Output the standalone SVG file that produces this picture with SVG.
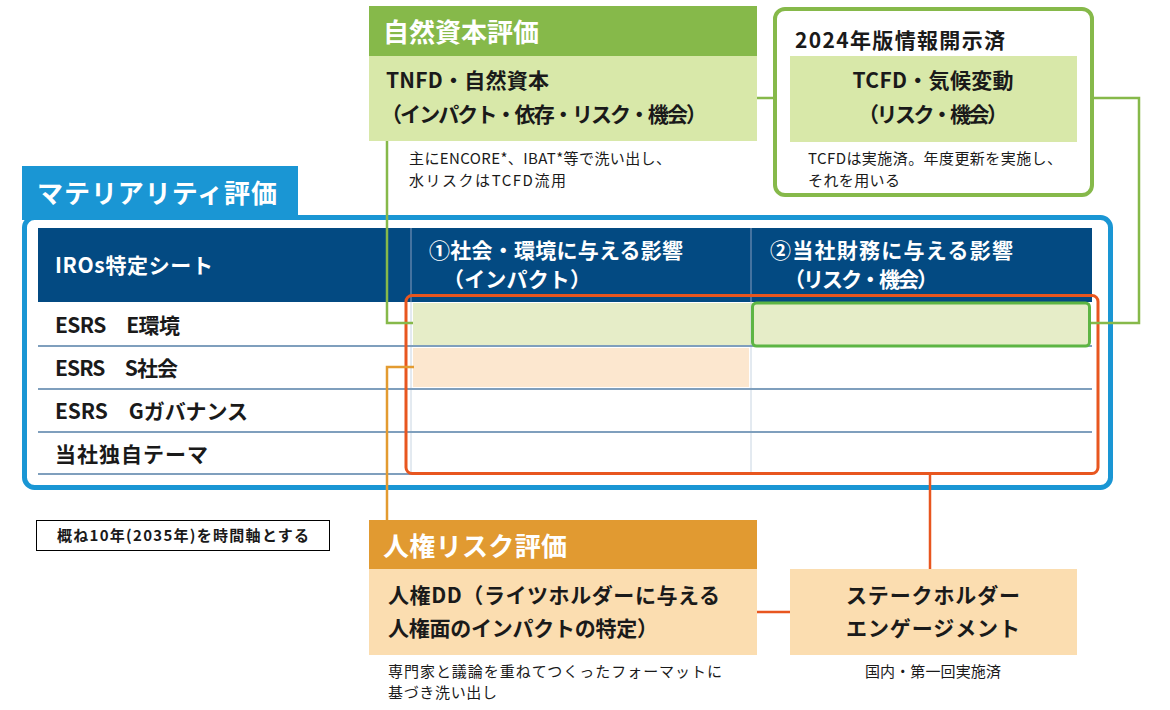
<svg xmlns="http://www.w3.org/2000/svg" width="1170" height="710" viewBox="0 0 1170 710">
<style>
text{font-family:"Noto Sans CJK JP","Noto Sans",sans-serif;}
.ttl{font-size:26px;font-weight:bold;fill:#fff;}
.bd{font-size:21px;font-weight:bold;fill:#1a1a1a;}
.hd{font-size:21px;font-weight:bold;fill:#fff;}
.nt{font-size:15px;fill:#1a1a1a;}
.row{stroke:#7f9fbd;stroke-width:2;}
.conn{fill:none;stroke-width:2.5;}
</style>
<rect width="1170" height="710" fill="#fff"/>

<g id="materiality">
<rect x="24.5" y="217.5" width="1086" height="270" rx="10" fill="#fff" stroke="#1a96d4" stroke-width="5"/>
<rect x="22" y="166" width="276" height="54" fill="#1a96d4"/>
<text class="ttl" x="37" y="203" textLength="240" lengthAdjust="spacing">マテリアリティ評価</text>
<rect x="38" y="228" width="1054" height="74" fill="#034a82"/>
<line x1="411" y1="228" x2="411" y2="302" stroke="#5d82aa" stroke-width="1.5"/>
<line x1="751" y1="228" x2="751" y2="302" stroke="#5d82aa" stroke-width="1.5"/>
<text class="hd" x="55" y="273" textLength="158" lengthAdjust="spacing">IROs特定シート</text>
<text class="hd" x="429" y="258" textLength="254" lengthAdjust="spacing">①社会・環境に与える影響</text>
<text class="hd" x="443" y="287" textLength="148" lengthAdjust="spacing">（インパクト）</text>
<text class="hd" x="770" y="258" textLength="243" lengthAdjust="spacing">②当社財務に与える影響</text>
<text class="hd" x="784" y="287" textLength="154" lengthAdjust="spacing">（リスク・機会）</text>
<rect x="413" y="303" width="338" height="42" fill="#e6edc8"/>
<rect x="751" y="303" width="339" height="42" fill="#e6edc8"/>
<rect x="413" y="348" width="336" height="39" fill="#fce7cf"/>
<line x1="411" y1="302" x2="411" y2="474" stroke="#c8d5e2" stroke-width="1"/>
<line x1="751" y1="302" x2="751" y2="474" stroke="#c8d5e2" stroke-width="1"/>
<line class="row" x1="38" y1="346" x2="1092" y2="346"/>
<line class="row" x1="38" y1="389" x2="1092" y2="389"/>
<line class="row" x1="38" y1="432" x2="1092" y2="432"/>
<line class="row" x1="38" y1="474" x2="1092" y2="474"/>
<text class="bd" x="55" y="333" textLength="125" lengthAdjust="spacing">ESRS　E環境</text>
<text class="bd" x="55" y="376" textLength="123" lengthAdjust="spacing">ESRS　S社会</text>
<text class="bd" x="55" y="419" textLength="193" lengthAdjust="spacing">ESRS　Gガバナンス</text>
<text class="bd" x="55" y="462" textLength="153" lengthAdjust="spacing">当社独自テーマ</text>
<rect x="752.5" y="303" width="337" height="43" rx="4" fill="none" stroke="#5db544" stroke-width="3"/>
<rect x="406" y="295.5" width="692" height="178" rx="6" fill="none" stroke="#e8561f" stroke-width="3"/>
</g>

<g id="connectors">
<polyline class="conn" stroke="#86b94a" points="387,141 387,323 413,323"/>
<line class="conn" stroke="#86b94a" x1="757" y1="98" x2="790" y2="98"/>
<polyline class="conn" stroke="#86b94a" points="1077,98 1139,98 1139,323 1091,323"/>
<polyline class="conn" stroke="#e39b30" points="414,367 387,367 387,520"/>
<line class="conn" stroke="#e8561f" x1="930" y1="475" x2="930" y2="569"/>
<line class="conn" stroke="#e8561f" x1="757" y1="612" x2="790" y2="612"/>
</g>

<g id="natural-capital">
<rect x="369" y="6" width="388" height="50" fill="#86b94a"/>
<text class="ttl" x="383" y="42">自然資本評価</text>
<rect x="369" y="56" width="388" height="85" fill="#d8e8a9"/>
<text class="bd" x="386" y="88" textLength="163" lengthAdjust="spacing">TNFD・自然資本</text>
<text class="bd" x="381" y="122" textLength="326" lengthAdjust="spacing">（インパクト・依存・リスク・機会）</text>
<text class="nt" x="409" y="164" textLength="262" lengthAdjust="spacing">主にENCORE*、IBAT*等で洗い出し、</text>
<text class="nt" x="409" y="186" textLength="157" lengthAdjust="spacing">水リスクはTCFD流用</text>
</g>

<g id="tcfd">
<rect x="775" y="9" width="317" height="186" rx="10" fill="#fff" stroke="#86b94a" stroke-width="4"/>
<text class="bd" x="795" y="48" textLength="210" lengthAdjust="spacing">2024年版情報開示済</text>
<rect x="790" y="56" width="287" height="86" fill="#d8e8a9"/>
<text class="bd" x="933" y="88" text-anchor="middle" textLength="161" lengthAdjust="spacing">TCFD・気候変動</text>
<text class="bd" x="933" y="122" text-anchor="middle" textLength="150" lengthAdjust="spacing">（リスク・機会）</text>
<text class="nt" x="808" y="164" textLength="254" lengthAdjust="spacing">TCFDは実施済。年度更新を実施し、</text>
<text class="nt" x="808" y="186" textLength="92" lengthAdjust="spacing">それを用いる</text>
</g>

<g id="time-axis">
<rect x="36.5" y="520.5" width="293" height="30" fill="#fff" stroke="#000" stroke-width="1"/>
<text x="183" y="541" text-anchor="middle" textLength="252" lengthAdjust="spacing" style="font-size:15px;font-weight:bold;fill:#1a1a1a">概ね10年(2035年)を時間軸とする</text>
</g>

<g id="human-rights">
<rect x="369" y="520" width="388" height="49" fill="#e19a31"/>
<text class="ttl" x="383" y="556" textLength="184" lengthAdjust="spacing">人権リスク評価</text>
<rect x="369" y="569" width="388" height="86" fill="#fbddb0"/>
<text class="bd" x="388" y="603" textLength="332" lengthAdjust="spacing">人権DD（ライツホルダーに与える</text>
<text class="bd" x="388" y="636" textLength="270" lengthAdjust="spacing">人権面のインパクトの特定）</text>
<text class="nt" x="388" y="677" textLength="334" lengthAdjust="spacing">専門家と議論を重ねてつくったフォーマットに</text>
<text class="nt" x="388" y="698" textLength="109" lengthAdjust="spacing">基づき洗い出し</text>
</g>

<g id="stakeholder">
<rect x="790" y="569" width="287" height="86" fill="#fbddb0"/>
<text class="bd" x="933" y="603" text-anchor="middle" textLength="174" lengthAdjust="spacing">ステークホルダー</text>
<text class="bd" x="933" y="636" text-anchor="middle" textLength="174" lengthAdjust="spacing">エンゲージメント</text>
<text class="nt" x="933" y="677" text-anchor="middle" textLength="136" lengthAdjust="spacing">国内・第一回実施済</text>
</g>
</svg>
